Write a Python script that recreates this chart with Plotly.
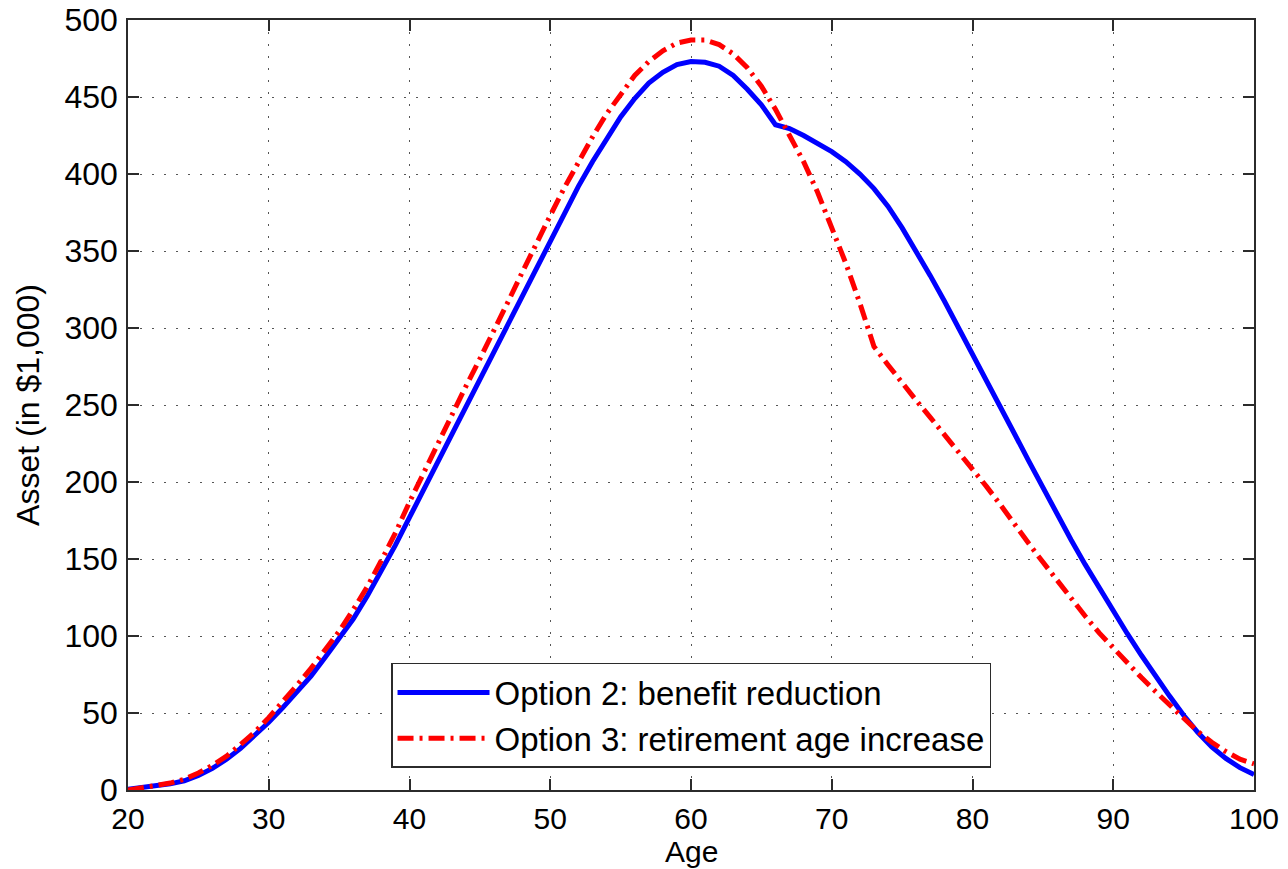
import plotly.graph_objects as go

# Ages from 20 to 100
ages = list(range(20, 101))

# Asset paths (in $1,000)
option2_benefit_reduction = [
    0.5, 1.5, 2.5, 4, 6, 9.5, 14, 20, 27, 35,            # 20-29
    44, 53.5, 63.5, 74, 86, 98, 111, 126, 142, 159,      # 30-39
    177, 195, 213, 231, 249, 267, 285, 303, 321, 339,    # 40-49
    357, 375, 392, 408, 423, 437, 449, 459, 466, 471,    # 50-59
    473, 472.5, 470, 464, 455, 445, 432, 429.5, 425, 419.5,  # 60-69
    414.5, 408, 400, 390.5, 379, 365, 350, 334, 317.5, 300.5,  # 70-79
    283, 266, 249, 231, 213.5, 196, 179, 162.5, 146.5, 131,    # 80-89
    116, 101.5, 87.5, 74, 61, 48.5, 37.5, 28, 20.5, 14.5,      # 90-99
    10,                                                  # 100
]

option3_retirement_age_increase = [
    0, 1.5, 3, 4.5, 7, 11, 16, 22, 29.5, 37.5,           # 20-29
    47, 57, 68, 79, 91, 103, 117, 132, 149, 167,         # 30-39
    187, 206, 225, 244, 262, 280, 298, 317, 336, 355,    # 40-49
    373, 391, 408, 424, 439, 452, 464, 473, 480, 485,    # 50-59
    487, 487, 484, 478, 469, 457, 442, 425, 408, 388,    # 60-69
    366, 342, 316, 288, 276, 264, 253, 242, 231, 220,    # 70-79
    209, 197, 185, 172, 160, 148, 136, 124, 113, 102,    # 80-89
    92, 82, 73, 64, 55, 46, 38, 31, 25, 20,              # 90-99
    17,                                                  # 100
]

x_ticks = [20, 30, 40, 50, 60, 70, 80, 90, 100]
y_ticks = [0, 50, 100, 150, 200, 250, 300, 350, 400, 450, 500]

FONT = "Liberation Sans, Arial, sans-serif"
TEXT_SIZE = 32
X_TEXT_SIZE = 30
AXIS_COLOR = "#2b2b2b"
GRID_COLOR = "#555555"

fig = go.Figure()
fig.add_trace(go.Scatter(
    x=ages, y=option2_benefit_reduction, mode="lines",
    name="Option 2: benefit reduction",
    line=dict(color="#0000ff", width=5),
))
fig.add_trace(go.Scatter(
    x=ages, y=option3_retirement_age_increase, mode="lines",
    name="Option 3: retirement age increase",
    line=dict(color="#ff0000", width=5, dash="16px,6px,3px,6px"),
))

axis_common = dict(
    automargin=False,
    showline=True, linecolor=AXIS_COLOR, linewidth=1.5, mirror="allticks",
    ticks="inside", ticklen=11, tickwidth=1.5, tickcolor=AXIS_COLOR,
    showgrid=True, gridcolor=GRID_COLOR, gridwidth=1, griddash="2px,10px",
    zeroline=False,
)

fig.update_xaxes(
    range=[20, 100], tickvals=x_ticks, ticklabelstandoff=1,
    tickfont=dict(family=FONT, size=X_TEXT_SIZE, color="black"),
    **axis_common,
)
fig.update_yaxes(
    range=[0, 500], tickvals=y_ticks, ticklabelstandoff=2,
    tickfont=dict(family=FONT, size=TEXT_SIZE, color="black"),
    title=dict(text="Asset (in $1,000)", font=dict(family=FONT, size=TEXT_SIZE, color="black"), standoff=15),
    **axis_common,
)

# x-axis title placed just under the tick labels
fig.add_annotation(
    text="Age", xref="paper", yref="paper", x=0.5, y=-0.0805,
    xanchor="center", yanchor="middle", showarrow=False,
    font=dict(family=FONT, size=X_TEXT_SIZE, color="black"),
)

fig.update_layout(
    width=1288, height=869,
    margin=dict(l=128, r=34, t=20, b=79),
    paper_bgcolor="white", plot_bgcolor="white",
    font=dict(family=FONT, size=TEXT_SIZE, color="black"),
    showlegend=True,
    legend=dict(
        x=0.2336, y=0.0286, xanchor="left", yanchor="bottom",
        bgcolor="white", bordercolor=AXIS_COLOR, borderwidth=1.5,
        font=dict(family=FONT, size=33, color="black"),
        itemwidth=92, tracegroupgap=0,
    ),
)

fig.write_html("out.html")
